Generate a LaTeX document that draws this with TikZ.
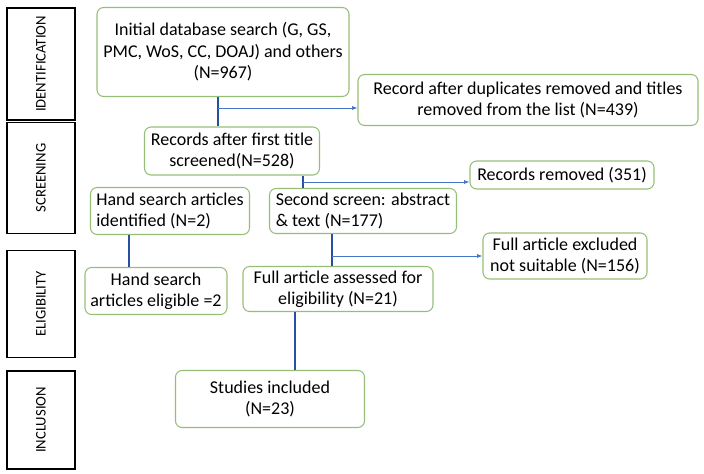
\documentclass[tikz,border=0pt]{standalone}
\usepackage{fontspec}
\setmainfont{Carlito}
\usetikzlibrary{positioning, arrows.meta}
\definecolor{boxgreen}{RGB}{150,190,120}
\definecolor{darkarrow}{RGB}{40,80,160}
\definecolor{lightarrow}{RGB}{70,120,200}
\tikzset{
    stage/.style={draw, thick, rectangle, align=center, minimum width=51pt, rotate=90, font=\fontsize{11}{12}\selectfont},
    flowbox/.style={draw=boxgreen, thick, rounded corners=5pt, align=center, font=\fontsize{13.5}{16}\selectfont, inner sep=0pt},
    main/.style={draw=darkarrow, line width=1.8pt},
    side/.style={draw=lightarrow, line width=0.6pt, -{Latex[length=4pt,width=3pt]}},
}
\begin{document}
\begin{tikzpicture}[x=0.75pt, y=-0.75pt]
    \useasboundingbox (0,0) rectangle (704,474);
    % stages on the left
    \node (ident) [stage, minimum height=68*0.75pt, minimum width=112*0.75pt] at (41,64) {IDENTIFICATION};
    \node (screen) [stage, minimum height=68*0.75pt, minimum width=111*0.75pt] at (41,178) {SCREENING};
    \node (elig) [stage, minimum height=68*0.75pt, minimum width=107*0.75pt] at (41,304) {ELIGIBILITY};
    \node (incl) [stage, minimum height=68*0.75pt, minimum width=98*0.75pt] at (41,420) {INCLUSION};

    % flow boxes
    \node (search) [flowbox, minimum width=252*0.75pt, minimum height=89*0.75pt] at (223,52) {Initial database search (G, GS,\\PMC, WoS, CC, DOAJ) and others\\(N=967)};
    \node (dup) [flowbox, minimum width=340*0.75pt, minimum height=51*0.75pt] at (528,100) {Record after duplicates removed and titles\\removed from the list (N=439)};
    \node (first) [flowbox, minimum width=175*0.75pt, minimum height=48*0.75pt] at (232,151) {Records after first title\\screened(N=528)};
    \node (removed) [flowbox, minimum width=184*0.75pt, minimum height=28*0.75pt] at (562,175) {Records removed (351)};
    \node (hand) [flowbox, minimum width=159*0.75pt, minimum height=47*0.75pt, align=left] at (170,211) {Hand search articles\\identified (N=2)};
    \node (second) [flowbox, minimum width=187*0.75pt, minimum height=45*0.75pt, align=left] at (363,211) {Second screen: abstract\\\& text (N=177)};
    \node (excluded) [flowbox, minimum width=164*0.75pt, minimum height=46*0.75pt] at (565,256) {Full article excluded\\not suitable (N=156)};
    \node (handelig) [flowbox, minimum width=142*0.75pt, minimum height=47*0.75pt] at (156,291) {Hand search\\articles eligible =2};
    \node (full) [flowbox, minimum width=190*0.75pt, minimum height=45*0.75pt] at (338,289) {Full article assessed for\\eligibility (N=21)};
    \node (studies) [flowbox, minimum width=189*0.75pt, minimum height=57*0.75pt] at (270,399) {Studies included\\(N=23)};

    % branch points
    \coordinate (b1) at (218,108);
    \coordinate (b2) at (303,182);
    \coordinate (b3) at (332,256);
    \coordinate (b4) at (129,250);
    \coordinate (b5) at (295,340);

    \draw [main] (search.south -| b1) -- (first.north -| b1);
    \draw [side] (b1) -- (dup.west |- b1);
    \draw [main] (first.south -| b2) -- (second.north -| b2);
    \draw [side] (b2) -- (removed.west |- b2);
    \draw [main] (hand.south -| b4) -- (handelig.north -| b4);
    \draw [main] (second.south -| b3) -- (full.north -| b3);
    \draw [side] (b3) -- (excluded.west |- b3);
    \draw [main] (full.south -| b5) -- (studies.north -| b5);
\end{tikzpicture}
\end{document}
